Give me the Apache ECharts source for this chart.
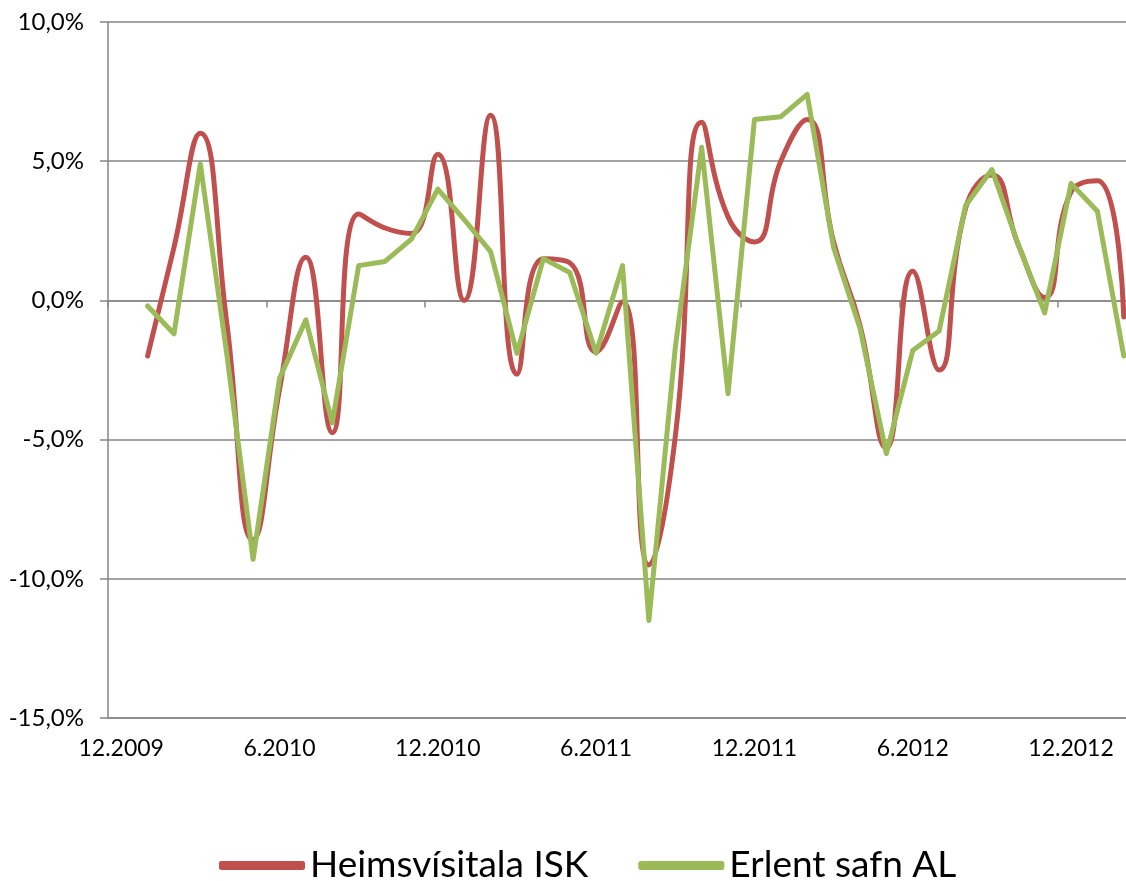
<!DOCTYPE html>
<html>
<head>
<meta charset="utf-8">
<script src="https://cdn.jsdelivr.net/npm/echarts@6/dist/echarts.min.js"></script>
<style>
  html, body { margin: 0; padding: 0; background: #fff; }
  #chart { width: 1126px; height: 881px; }
</style>
</head>
<body>
<div id="chart"></div>
<script>
  // monthly categories, first one has no data
  const months = [
    '12.2009', '1.2010', '2.2010', '3.2010', '4.2010', '5.2010',
    '6.2010', '7.2010', '8.2010', '9.2010', '10.2010', '11.2010',
    '12.2010', '1.2011', '2.2011', '3.2011', '4.2011', '5.2011',
    '6.2011', '7.2011', '8.2011', '9.2011', '10.2011', '11.2011',
    '12.2011', '1.2012', '2.2012', '3.2012', '4.2012', '5.2012',
    '6.2012', '7.2012', '8.2012', '9.2012', '10.2012', '11.2012',
    '12.2012', '1.2013', '2.2013',
  ]

  // Heimsvísitala ISK (%)
  const heims = [
    null, -2.0, 1.9, 6.0, -0.8, -8.6, -3.2, 1.55, -4.75, 3.1, 2.6, 2.4,
    5.25, 0.0, 6.65, -2.65, 1.5, 1.35, -1.85, -0.05, -9.5, -4.9, 6.4, 3.0,
    2.1, 5.0, 6.5, 2.1, -0.9, -5.3, 1.05, -2.5, 3.3, 4.5, 2.0, 0.1,
    3.9, 4.3, -0.6,
  ]

  // Erlent safn AL (%)
  const erlent = [
    null, -0.2, -1.2, 4.9, -1.9, -9.3, -2.8, -0.7, -4.4, 1.25, 1.4, 2.2,
    4.0, 2.9, 1.75, -1.9, 1.5, 1.0, -1.9, 1.25, -11.5, -1.7, 5.5, -3.35,
    6.5, 6.6, 7.4, 1.9, -1.0, -5.5, -1.8, -1.1, 3.4, 4.7, 2.0, -0.45,
    4.2, 3.2, -2.0,
  ]

  const yTicks = { min: -15, max: 10, step: 5 }

  const font = 'Lato, "Open Sans", sans-serif'
  const gray = '#868686'

  const chart = echarts.init(document.getElementById('chart'))

  chart.setOption({
    animation: false,
    grid: {
      left: 108,
      top: 22,
      width: 1029,
      bottom: 163,
      outerBoundsMode: 'none',
    },
    legend: {
      left: 214,
      top: 842,
      icon: 'roundRect',
      itemWidth: 86,
      itemHeight: 9,
      itemGap: 50,
      textStyle: {
        fontFamily: font,
        fontSize: 37,
        color: '#000',
      },
      data: ['Heimsvísitala ISK', 'Erlent safn AL'],
    },
    xAxis: [
      {
        // labels along the bottom
        type: 'category',
        data: months,
        boundaryGap: true,
        position: 'bottom',
        axisLine: { onZero: false, lineStyle: { color: gray, width: 1.5 } },
        axisTick: { show: false },
        axisLabel: {
          interval: 5,
          margin: 19,
          fontFamily: font,
          fontSize: 23,
          color: '#000',
        },
      },
      {
        // axis line crossing at zero, ticks only
        type: 'category',
        data: months,
        boundaryGap: true,
        position: 'bottom',
        axisLine: { onZero: true, lineStyle: { color: gray, width: 1.5 } },
        axisTick: { show: true, interval: 5, length: 7, lineStyle: { color: gray, width: 1.5 } },
        axisLabel: { show: false },
      },
    ],
    yAxis: {
      type: 'value',
      min: yTicks.min,
      max: yTicks.max,
      interval: yTicks.step,
      axisLine: { show: true, lineStyle: { color: gray, width: 1.5 } },
      axisTick: { show: true, length: 8, lineStyle: { color: gray, width: 1.5 } },
      splitLine: { lineStyle: { color: gray, width: 1.5 } },
      axisLabel: {
        margin: 24,
        fontFamily: font,
        fontSize: 24,
        color: '#000',
        formatter: (v) => v.toFixed(1).replace('.', ',') + '%',
      },
    },
    series: [
      {
        name: 'Heimsvísitala ISK',
        type: 'line',
        data: heims,
        smooth: 0.5,
        symbol: 'none',
        itemStyle: { color: '#C0504D' },
        lineStyle: { color: '#C0504D', width: 5, cap: 'round', join: 'round' },
      },
      {
        name: 'Erlent safn AL',
        type: 'line',
        data: erlent,
        symbol: 'none',
        itemStyle: { color: '#9BBB59' },
        lineStyle: { color: '#9BBB59', width: 5, cap: 'round', join: 'round' },
      },
    ],
  })
</script>
</body>
</html>
